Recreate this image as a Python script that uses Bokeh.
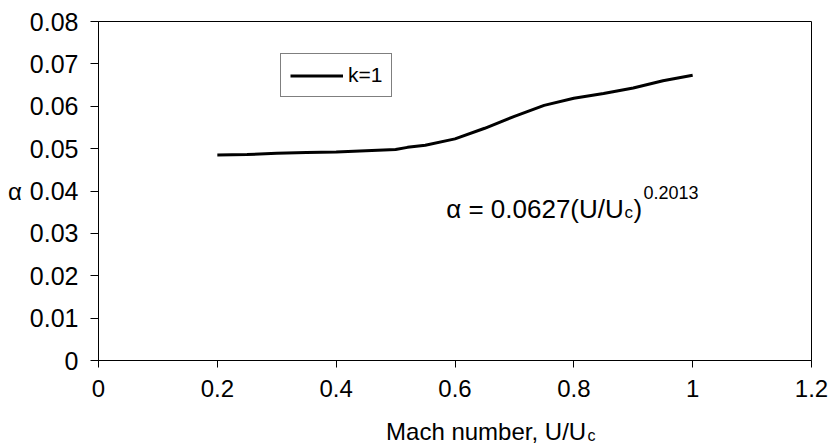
from bokeh.plotting import figure
from bokeh.layouts import column
from bokeh.models import FixedTicker, Label, Legend, LegendItem, Range1d
from bokeh.core.properties import value
from bokeh.embed import file_html
from bokeh.resources import INLINE

# ---- data ----
mach = [0.2, 0.25, 0.3, 0.35, 0.4, 0.45, 0.5, 0.52, 0.55, 0.6, 0.65, 0.7, 0.75, 0.8, 0.85, 0.9, 0.95, 1.0]
alpha = [0.0485, 0.0486, 0.0489, 0.0491, 0.0492, 0.0495, 0.0498, 0.0503, 0.0508, 0.0523, 0.0548, 0.0576,
         0.0602, 0.0619, 0.0630, 0.0643, 0.0660, 0.0673]
x_ticks = [0, 0.2, 0.4, 0.6, 0.8, 1.0, 1.2]
x_tick_labels = ["0", "0.2", "0.4", "0.6", "0.8", "1", "1.2"]
y_ticks = [0, 0.01, 0.02, 0.03, 0.04, 0.05, 0.06, 0.07, 0.08]
y_tick_labels = ["0", "0.01", "0.02", "0.03", "0.04", "0.05", "0.06", "0.07", "0.08"]
series_name = "k=1"
x_title = "Mach number, U/U"
x_title_sub = "c"
y_title = "\u03b1"

FONT = "Liberation Sans"
W, H_MAIN, H_FOOT = 833, 405, 42

p = figure(width=W, height=H_MAIN, output_backend="svg", toolbar_location=None,
           x_range=Range1d(0, 1.2), y_range=Range1d(0, 0.08),
           min_border_left=98, min_border_right=22, min_border_top=21, min_border_bottom=45)
p.background_fill_color = "white"
p.border_fill_color = "white"
p.outline_line_color = "black"
p.outline_line_width = 1
p.xgrid.visible = False
p.ygrid.visible = False

for ax, ticks, labels in ((p.xaxis[0], x_ticks, x_tick_labels), (p.yaxis[0], y_ticks, y_tick_labels)):
    ax.ticker = FixedTicker(ticks=ticks)
    ax.major_label_overrides = {t: l for t, l in zip(ticks, labels)}
    ax.minor_tick_line_color = None
    ax.major_tick_in = 0
    ax.axis_line_color = "black"
    ax.major_tick_line_color = "black"
    ax.major_label_text_font = FONT
    ax.major_label_text_color = "black"

p.yaxis.major_tick_out = 8
p.yaxis.major_label_standoff = 12
p.yaxis.major_label_text_font_size = "25px"
p.yaxis.axis_label = y_title
p.yaxis.axis_label_orientation = "horizontal"
p.yaxis.axis_label_text_font = FONT
p.yaxis.axis_label_text_font_style = "normal"
p.yaxis.axis_label_text_font_size = "24px"
p.yaxis.axis_label_text_color = "black"
p.yaxis.axis_label_standoff = 5

p.xaxis.major_tick_out = 7
p.xaxis.major_label_standoff = 12
p.xaxis.major_label_text_font_size = "24px"

r = p.line(mach, alpha, line_color="black", line_width=3)

legend = Legend(items=[LegendItem(label=series_name, renderers=[r])],
                location=(182, 263), padding=9, margin=0, spacing=0,
                glyph_width=53, glyph_height=19, label_height=19, label_standoff=5,
                label_text_font=FONT, label_text_font_size="21px", label_text_color="black",
                border_line_color="black", border_line_width=1,
                background_fill_alpha=1.0)
p.add_layout(legend)

X0, XS = 98, 593.0
Y0, YS = 360, 4237.5
def dx(px):
    return (px - X0) / XS
def dy(py):
    return (Y0 - py) / YS

def lab(text, px, py, size):
    p.add_layout(Label(x=dx(px), y=dy(py), text=text, text_font=FONT, text_font_size=size,
                       text_color="black", text_align="left", text_baseline="alphabetic"))

# equation
lab("\u03b1 = 0.0627(U/U", 445, 208, "26px")
lab("c", 623, 212, "17px")
lab(")", 632, 208, "26px")
lab("0.2013", 642, 192, "18px")

# footer strip holding the x-axis title (with its subscript); its frame is aligned with p's
f = figure(width=W, height=H_FOOT, output_backend="svg", toolbar_location=None, title=None,
           x_range=p.x_range, y_range=Range1d(H_FOOT, 0),
           x_axis_type=None, y_axis_type=None,
           min_border_left=98, min_border_right=22, min_border_top=0, min_border_bottom=0)
f.outline_line_color = None
f.grid.visible = False
f.background_fill_color = "white"
f.border_fill_color = "white"
SHIFT = 8
f.text(x=[dx(385)], y=[439 - H_MAIN - SHIFT], text=[x_title], text_font=value(FONT), text_font_size="24px",
       text_color="black", text_align="left", text_baseline="alphabetic")
f.text(x=[dx(586)], y=[443 - H_MAIN - SHIFT], text=[x_title_sub], text_font=value(FONT), text_font_size="16px",
       text_color="black", text_align="left", text_baseline="alphabetic")

layout = column(p, f, spacing=0)
open("out.html", "w").write(file_html(layout, INLINE))
